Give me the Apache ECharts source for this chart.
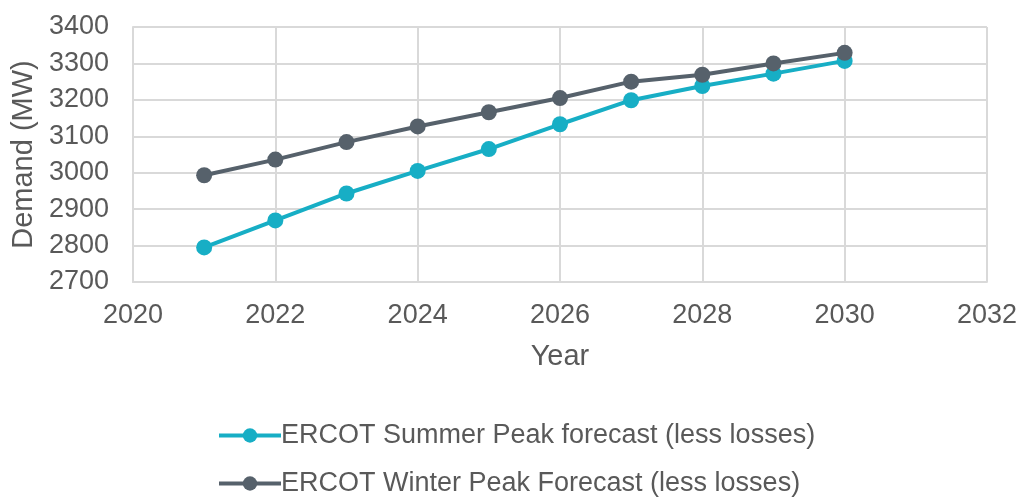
<!DOCTYPE html>
<html>
<head>
<meta charset="utf-8">
<script src="https://cdn.jsdelivr.net/npm/echarts@6/dist/echarts.min.js"></script>
<style>html,body{margin:0;padding:0;background:#fff}#c{width:1020px;height:498px}</style>
</head>
<body>
<div id="c"></div>
<script>
const years = [2021, 2022, 2023, 2024, 2025, 2026, 2027, 2028, 2029, 2030];
const summerPeak = [2795, 2869, 2943, 3005, 3065, 3133, 3199, 3238, 3272, 3307];
const winterPeak = [2993, 3036, 3084, 3127, 3166, 3205, 3250, 3269, 3300, 3329];
const seriesNames = ['ERCOT Summer Peak forecast (less losses)', 'ERCOT Winter Peak Forecast (less losses)'];
const xTitle = 'Year';
const yTitle = 'Demand (MW)';

const chart = echarts.init(document.getElementById('c'));
const font = 'Liberation Sans, Arial, sans-serif';
const txt = '#595959';
const gridC = '#D9D9D9';
function pairs(vals){ return years.map((y,i)=>[y, vals[i]]); }
function legendFor(name, top){
  return {
    orient: 'horizontal', left: 212, top: top,
    itemWidth: 62, itemHeight: 18,
    lineStyle: {width: 4},
    textStyle: {fontSize: 27, color: txt, fontFamily: font, padding: [0,0,0,-5]},
    data: [name]
  };
}
chart.setOption({
  animation: false,
  grid: {left: 133, right: 32, top: 27, bottom: 216, containLabel: false},
  xAxis: {
    type: 'value', min: 2020, max: 2032, interval: 2,
    name: xTitle, nameLocation: 'middle', nameGap: 60,
    nameTextStyle: {fontSize: 29, color: txt, fontFamily: font},
    axisLine: {show: true, lineStyle: {color: gridC, width: 2}},
    axisTick: {show: false},
    axisLabel: {fontSize: 27, color: txt, fontFamily: font, margin: 20, formatter: v => String(v)},
    splitLine: {show: true, lineStyle: {color: gridC, width: 2}}
  },
  yAxis: {
    type: 'value', min: 2700, max: 3400, interval: 100,
    name: yTitle, nameLocation: 'middle', nameGap: 93, nameRotate: 90,
    nameTextStyle: {fontSize: 29, color: txt, fontFamily: font},
    axisLine: {show: true, lineStyle: {color: gridC, width: 2}},
    axisTick: {show: false},
    axisLabel: {fontSize: 27, color: txt, fontFamily: font, margin: 24, formatter: v => String(v)},
    splitLine: {show: true, lineStyle: {color: gridC, width: 2}}
  },
  legend: [legendFor(seriesNames[0], 417), legendFor(seriesNames[1], 465)],
  series: [
    {name: seriesNames[0], type: 'line', data: pairs(summerPeak), symbol: 'circle', symbolSize: 16,
     itemStyle: {color: '#17AEC5'}, lineStyle: {color: '#17AEC5', width: 4}},
    {name: seriesNames[1], type: 'line', data: pairs(winterPeak), symbol: 'circle', symbolSize: 16,
     itemStyle: {color: '#56616B'}, lineStyle: {color: '#56616B', width: 4}}
  ]
});
</script>
</body>
</html>
